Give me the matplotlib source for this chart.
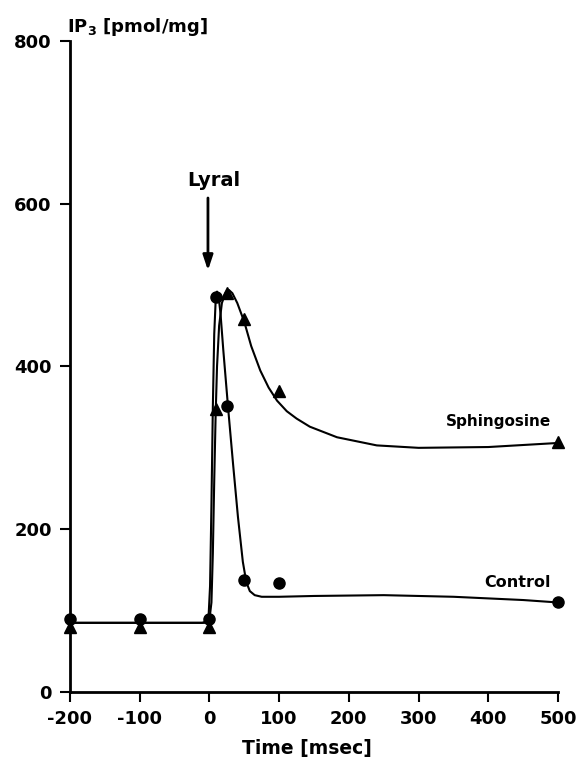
import matplotlib
matplotlib.use('Agg')
import matplotlib.pyplot as plt

# ---- measured points ----
time_pts = [-200, -100, 0, 10, 25, 50, 100, 500]
control_pts = [90, 90, 90, 485, 352, 138, 134, 110]
sphingo_pts = [80, 80, 80, 348, 490, 458, 370, 307]

# ---- fitted curves ----
control_curve_t = [-200, -100, -10, -4, -1, 1, 3, 5, 7, 9, 11, 13, 16, 20, 27, 34, 41, 48,
                   53, 58, 65, 75, 100, 150, 250, 350, 450, 500]
control_curve_v = [85, 85, 85, 87, 95, 130, 230, 350, 440, 480, 492, 488, 465, 420, 348, 280,
                   215, 160, 135, 124, 119, 117, 117, 118, 119, 117, 113, 110]
sphingo_curve_t = [-200, -100, -5, 0, 3, 5, 7, 9, 11, 14, 18, 23, 28, 33, 40, 50, 60, 73,
                   85, 97, 111, 125, 144, 183, 240, 300, 400, 500]
sphingo_curve_v = [85, 85, 85, 88, 110, 170, 260, 340, 400, 450, 478, 490, 494, 490, 478,
                   455, 425, 395, 374, 358, 345, 336, 326, 313, 303, 300, 301, 306]

x_ticks = [-200, -100, 0, 100, 200, 300, 400, 500]
y_ticks = [0, 200, 400, 600, 800]

plt.rcParams['font.family'] = ['DejaVu Sans']
plt.rcParams['font.weight'] = 'bold'
plt.rcParams['mathtext.default'] = 'regular'
plt.rcParams['axes.unicode_minus'] = False

fig = plt.figure(figsize=(5.82, 7.66), dpi=100)
ax = fig.add_axes([0.120, 0.0966, 0.839, 0.85])

# curves
ax.plot(control_curve_t, control_curve_v, color='black', lw=1.5, zorder=2)
ax.plot(sphingo_curve_t, sphingo_curve_v, color='black', lw=1.5, zorder=2)

# markers
ax.plot(time_pts, control_pts, 'o', color='black', ms=8, clip_on=False, zorder=3)
ax.plot(time_pts, sphingo_pts, '^', color='black', ms=8, clip_on=False, zorder=3)

ax.set_xlim(-200, 500)
ax.set_ylim(0, 800)
ax.set_xticks(x_ticks)
ax.set_yticks(y_ticks)
ax.tick_params(axis='both', direction='out', length=7, width=1.5, labelsize=13, pad=6)

for side in ['top', 'right']:
    ax.spines[side].set_visible(False)
for side in ['left', 'bottom']:
    ax.spines[side].set_linewidth(2)

for lbl in ax.get_xticklabels() + ax.get_yticklabels():
    lbl.set_fontweight('bold')

# labels
ax.set_xlabel('Time [msec]', fontsize=13.5, fontweight='bold', labelpad=8)
ax.xaxis.label.set_x(0.485)
ax.text(-0.005, 1.005, 'IP$_3$ [pmol/mg]', transform=ax.transAxes, fontsize=13,
        fontweight='bold', ha='left', va='bottom')

# stimulus arrow
ax.annotate('', xy=(-2, 518), xytext=(-2, 607),
            arrowprops=dict(arrowstyle='-|>,head_width=0.3,head_length=0.9',
                            color='black', lw=2, shrinkA=0, shrinkB=0))
ax.text(6, 617, 'Lyral', fontsize=14, fontweight='bold', ha='center', va='bottom')

# curve labels
ax.text(490, 332, 'Sphingosine', fontsize=11, fontweight='bold', ha='right', va='center')
ax.text(490, 135, 'Control', fontsize=11.5, fontweight='bold', ha='right', va='center')

fig.savefig('out.png', dpi=100)
